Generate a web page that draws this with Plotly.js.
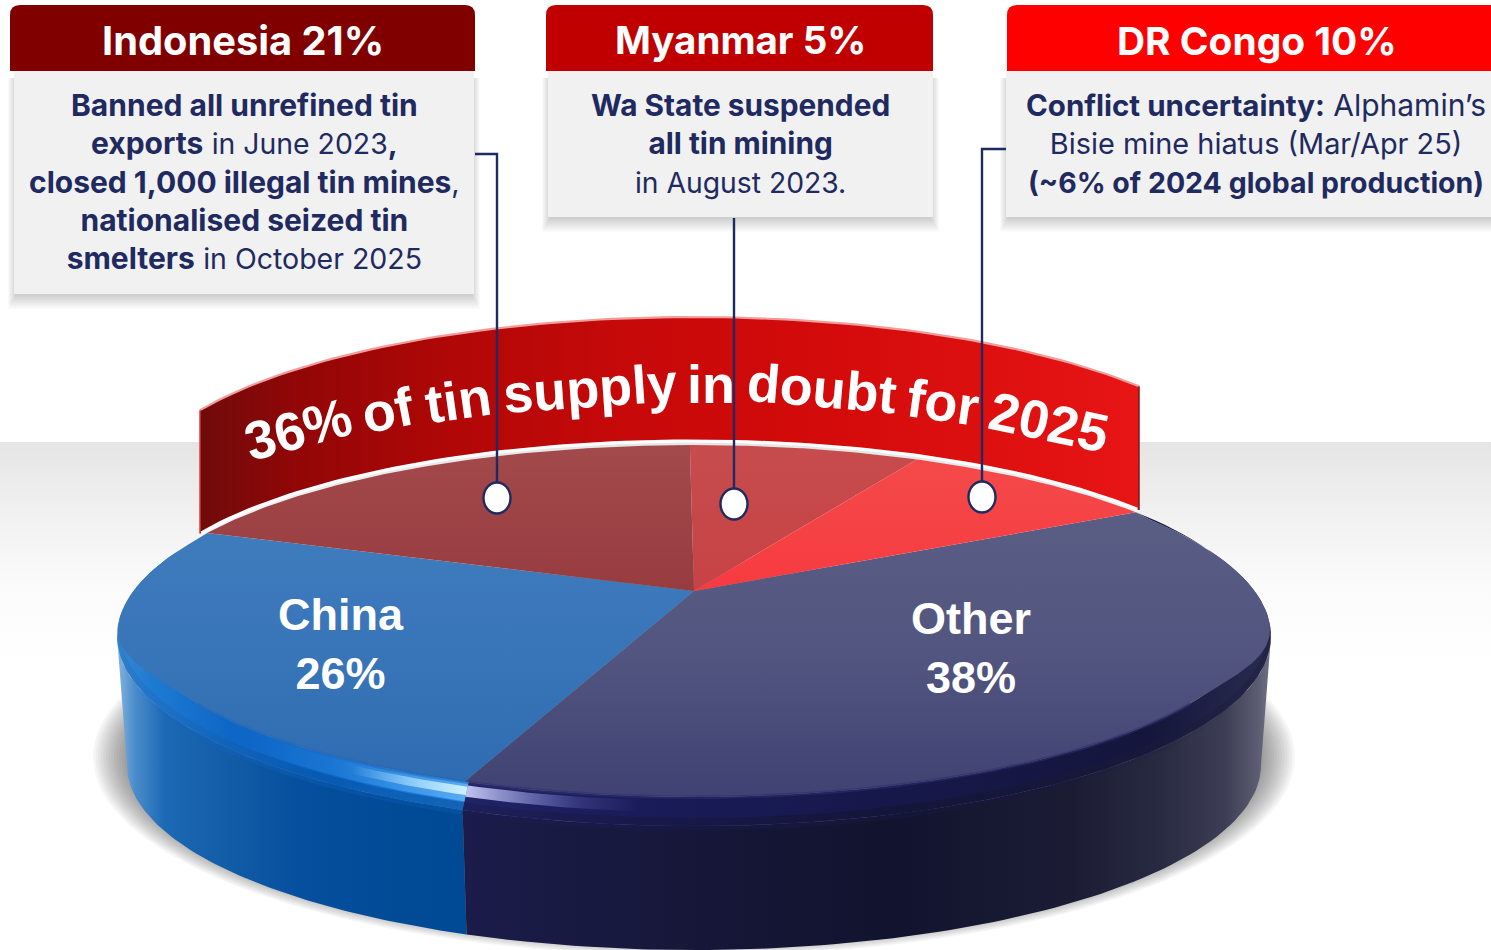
<!DOCTYPE html>
<html><head><meta charset="utf-8">
<script src="https://cdn.plot.ly/plotly-3.0.1.min.js"></script>
<style>html,body{margin:0;padding:0;background:#fff;overflow:hidden}#chart{width:1491px;height:950px}</style>
</head><body><div id="chart"></div>
<script>
// ---- data ----
const categories = ['Myanmar', 'DR Congo', 'Other', 'China', 'Indonesia'];
const labelledShares = [5, 10, 38, 26, 21];            // percentages printed on the chart
const drawnSliceSizes = [7.8, 9, 39, 25.2, 19];        // angular size of each wedge as drawn in the reference
const startAngleDeg = -0.5;
const bannerWords = ['36%', 'of', 'tin', 'supply', 'in', 'doubt', 'for', '2025'];
const bannerWordX = [298, 388, 458, 590, 711, 822, 943, 1049];
const bannerWordY = [429, 410, 400, 388, 384, 388, 402, 422];
const bannerWordAngle = [-15, -11, -8, -4, 0, 5, 8, 12];
const B = (t, s) => `<span style="font-size:${s}px;font-weight:700">${t}</span>`;
const R = (t, s) => `<span style="font-size:${s}px">${t}</span>`;
const indonesiaNote = [B('Banned all unrefined tin', 30), B('exports', 30) + ' ' + R('in June 2023', 28.4) + B(',', 30),
  B('closed 1,000 illegal tin mines', 30) + R(',', 29), B('nationalised seized tin', 30),
  B('smelters', 30) + ' ' + R('in October 2025', 28.5)].join('<br>');
const myanmarNote = [B('Wa State suspended', 29.8), B('all tin mining', 29.8), R('in August 2023.', 28.3)].join('<br>');
const congoNote = [B('Conflict uncertainty:', 29.5) + ' ' + R('Alphamin’s', 30), R('Bisie mine hiatus (Mar/Apr 25)', 28.9),
  B('(~6% of 2024 global production)', 28.5)].join('<br>');

// ---- geometry helpers ----
const F = 'Inter, "Noto Sans", sans-serif';
const ARIAL = '"Liberation Sans", Arial, sans-serif';
const NAVY = '#1f2a60';
const cx = 694, hubY = 591;
const SURF = {cy: 621, rx: 562, ry: 176};
const RIM  = {cy: 636, rx: 577, ry: 190};
const BASE = {cy: 765, rx: 567, ry: 185};
const t0 = (hubY - SURF.cy) / SURF.ry;
const rad = d => d * Math.PI / 180;
const onE = (E, phi) => [cx + E.rx * Math.cos(phi), E.cy + E.ry * Math.sin(phi)];
const mix = (A, B, f) => ({cy: A.cy + (B.cy - A.cy) * f, rx: A.rx + (B.rx - A.rx) * f, ry: A.ry + (B.ry - A.ry) * f});
// pie angle (clockwise from 12 o'clock) -> angle on the foreshortened ellipse
function pieToPhi(deg) {
  const u = Math.sin(rad(deg)), v = -Math.cos(rad(deg));
  const d = 1 + t0 * v;
  return Math.atan2((v + t0) / d, u * Math.sqrt(1 - t0 * t0) / d);
}
function arc(E, p0, p1, n = 90) {
  const o = [];
  for (let i = 0; i <= n; i++) o.push(onE(E, p0 + (p1 - p0) * i / n));
  return o;
}
// edge of the flat top: runs out to the silhouette on the far half, pulls in to the bevel on the near half
function topEdge(p0, p1, n = 160) {
  const o = [];
  for (let i = 0; i <= n; i++) {
    const p = p0 + (p1 - p0) * i / n, s = Math.sin(p);
    const k = Math.min(1, Math.max(0, (0.45 - s) / 0.55));
    o.push(onE(mix(SURF, RIM, k * k * (3 - 2 * k)), p));
  }
  return o;
}
function poly(pts, grad, extra) {
  return Object.assign({
    type: 'scatter', mode: 'lines', x: pts.map(p => p[0]), y: pts.map(p => p[1]),
    fill: 'toself', line: {width: 0}, hoverinfo: 'skip', showlegend: false,
    fillcolor: grad.color || 'rgba(0,0,0,0)'
  }, grad.scale ? {fillgradient: {type: grad.type, colorscale: grad.scale, start: grad.start, stop: grad.stop}} : {}, extra || {});
}
const vGrad = (start, stop, cols) => ({type: 'vertical', start, stop, scale: cols.map((c, i) => [i / (cols.length - 1), c])});
const stops = (start, stop, pairs) => ({type: 'horizontal', start, stop, scale: pairs.map(p => [(p[0] - start) / (stop - start), p[1]])});

// slice boundaries
const total = drawnSliceSizes.reduce((a, b) => a + b, 0);
let acc = startAngleDeg;
const edges = [acc];
drawnSliceSizes.forEach(v => { acc += v / total * 360; edges.push(acc); });
function unwrap(p0, p1) { let e = p1; while (e < p0) e += 2 * Math.PI; return e; }

const traces = [];
// background floor
traces.push(poly([[0, 442], [1491, 442], [1491, 660], [0, 660]], vGrad(442, 660, ['#e5e5e5', '#f1f1f1', '#fbfbfb', '#ffffff'])));
// soft shadow under the disc
for (let i = 0; i < 16; i++) {
  const E = {cy: 757, rx: 601 - i * 2.6, ry: 199 - i * 1.3};
  traces.push(poly(arc(E, 0, 2 * Math.PI, 160), {color: 'rgba(50,50,50,0.042)'}));
}

const phiChina0 = pieToPhi(edges[3]), phiIndo0 = pieToPhi(edges[4]), otherStart = pieToPhi(edges[2]);
const split = phiChina0 - 0.008;
// --- side walls ---
const sideBlue = arc(RIM, split, Math.PI).concat(arc(BASE, Math.PI, split));
traces.push(poly(sideBlue, stops(115, 470, [[115, '#8fb9e2'], [135, '#4a8ccb'], [165, '#1c69b5'], [215, '#155ea9'], [300, '#064f9e'], [400, '#004a96'], [470, '#004a94']])));
const sideNavy = arc(RIM, 0, split).concat(arc(BASE, split, 0));
traces.push(poly(sideNavy, stops(455, 1275, [[455, '#1b1c4a'], [700, '#161738'], [900, '#12132e'], [1070, '#1b1c34'], [1160, '#282a42'], [1225, '#3d3e55'], [1258, '#5c5d72'], [1275, '#77788a']])));

// --- bevelled rim ---
const chinaEnd = unwrap(phiChina0, phiIndo0);
const blueBevel = stops(115, 480, [[115, '#3a8ad2'], [150, '#1e7bd2'], [230, '#0e67c6'], [330, '#0b66c8'], [400, '#1a78d8'], [480, '#2c88e0']]);
const navyBevel = stops(455, 1275, [[455, '#22246a'], [600, '#1a1c5c'], [900, '#16184a'], [1150, '#15163c'], [1275, '#2a2c50']]);
traces.push(poly(arc(RIM, split, chinaEnd).concat(arc(SURF, chinaEnd, split)), blueBevel));
traces.push(poly(arc(RIM, otherStart, split).concat(arc(SURF, split, otherStart)), navyBevel));
function band(p0, p1, f0, f1, g) {
  const A = mix(SURF, RIM, f0), Z = mix(SURF, RIM, f1);
  return poly(arc(A, p0, p1).concat(arc(Z, p1, p0)), g);
}
// soft lower edge of the bevel, blending into the wall
traces.push(band(split, rad(180), 0.72, 1.0, stops(115, 470, [[115, 'rgba(40,110,190,.35)'], [300, 'rgba(5,80,160,.5)'], [470, 'rgba(0,74,150,.55)']])));
traces.push(band(rad(0), split, 0.72, 1.0, stops(455, 1275, [[455, 'rgba(27,28,74,.5)'], [900, 'rgba(18,19,46,.6)'], [1275, 'rgba(30,30,60,.4)']])));
traces.push(band(split, rad(165), 1.0, 1.16, stops(130, 466, [[130, 'rgba(14,100,196,0)'], [220, 'rgba(14,100,196,.35)'], [466, 'rgba(10,90,180,.4)']])));
traces.push(band(rad(15), split, 1.0, 1.16, stops(464, 1240, [[464, 'rgba(26,28,86,.45)'], [1000, 'rgba(22,24,70,.35)'], [1240, 'rgba(22,24,70,0)']])));
// highlights on the rim
const bluePhi = [split, rad(170)];
traces.push(band(bluePhi[0], bluePhi[1], 0.02, 0.68, stops(250, 466, [[250, 'rgba(70,160,240,0)'], [360, 'rgba(70,160,240,.35)'], [430, 'rgba(110,190,255,.5)'], [466, 'rgba(120,200,255,.6)']])));
traces.push(band(bluePhi[0], bluePhi[1], 0.16, 0.46, stops(350, 466, [[350, 'rgba(170,225,255,0)'], [420, 'rgba(180,230,255,.75)'], [466, 'rgba(205,240,255,1)']])));
traces.push(band(rad(60), split, 0.12, 0.52, stops(464, 640, [[464, 'rgba(205,208,250,.95)'], [520, 'rgba(170,175,235,.6)'], [580, 'rgba(120,125,205,.25)'], [640, 'rgba(110,115,200,0)']])));

// --- banner ---
const BANNER_BOT = {cy: 618, rx: 562, ry: 177};
const BANNER_TOP = {cy: 495, rx: 562, ry: 178};
const pL = Math.PI + Math.acos((cx - 200) / 562), pR = 2 * Math.PI - Math.acos((1139 - cx) / 562);
const bannerPoly = arc(BANNER_TOP, pL, pR).concat(arc(BANNER_BOT, pR, pL));
traces.push(poly(bannerPoly, stops(199, 1140, [[199, '#6f0b0b'], [300, '#930606'], [450, '#b00707'], [620, '#c60909'], [800, '#d20a0a'], [1000, '#de1010'], [1140, '#e81515']])));

// --- top surface slices: the two solid ones run out to the silhouette, the red ones stop at the lip ---
const sliceFill = {
  Myanmar:    vGrad(445, 595, ['#c64c4d', '#c84245']),
  'DR Congo': vGrad(455, 595, ['#f44a4a', '#f73a40']),
  Other:      vGrad(510, 800, ['#5a5e85', '#52557f', '#3f4272']),
  China:      vGrad(530, 790, ['#3f7cbd', '#3874b8', '#2e6bb0']),
  Indonesia:  vGrad(445, 595, ['#a34a4c', '#973b3f'])
};
const hub = [cx, hubY];
const solidSlices = ['Other', 'China'];
categories.forEach((name, i) => {
  const p0 = pieToPhi(edges[i]), p1 = unwrap(p0, pieToPhi(edges[i + 1]));
  if (solidSlices.includes(name)) {
    traces.push(poly([hub, onE(SURF, p0)].concat(topEdge(p0, p1)).concat([onE(SURF, p1), hub]), sliceFill[name]));
  }
});
categories.forEach((name, i) => {
  const p0 = pieToPhi(edges[i]), p1 = unwrap(p0, pieToPhi(edges[i + 1]));
  if (!solidSlices.includes(name)) {
    traces.push(poly([hub].concat(arc(SURF, p0, p1)).concat([hub]), sliceFill[name]));
  }
});
// feather where the flat top meets the bevel
traces.push(band(rad(28), split, -0.05, 0.07, {color: 'rgba(45,48,110,.55)'}));
traces.push(band(split, rad(152), -0.05, 0.07, {color: 'rgba(30,105,190,.55)'}));
// white lip and pink highlight of the banner
const lineTrace = (pts, color, width) => ({type: 'scatter', mode: 'lines', x: pts.map(p => p[0]), y: pts.map(p => p[1]),
  line: {color, width}, hoverinfo: 'skip', showlegend: false});
traces.push(lineTrace(arc(BANNER_BOT, pL + 0.005, pR - 0.005), '#ffffff', 3.2));
traces.push(lineTrace(arc(BANNER_TOP, pL, pR), '#f29c9c', 2.2));
traces.push(lineTrace([onE(BANNER_TOP, pL), onE(BANNER_BOT, pL)], '#d93a3a', 1.5));
traces.push(lineTrace([onE(BANNER_TOP, pR), onE(BANNER_BOT, pR)], '#7a1b1b', 1.5));

// --- shapes: callout cards and connectors ---
const shapes = [];
function card(x0, x1, y1, hx0, hx1, color) {
  for (let i = 0; i < 12; i++) {
    shapes.push({type: 'rect', xref: 'x', yref: 'y', x0: x0 - 6 + i * 0.7, x1: x1 + 6 - i * 0.7, y0: 78, y1: y1 + 15 - i * 1.2,
      fillcolor: 'rgba(60,60,60,0.018)', line: {width: 0}, layer: 'above'});
  }
  shapes.push({type: 'rect', xref: 'x', yref: 'y', x0, x1, y0: 71, y1, fillcolor: '#f1f1f1', line: {width: 0}, layer: 'above'});
  const r = 10;
  shapes.push({type: 'path', xref: 'x', yref: 'y', layer: 'above', fillcolor: color, line: {width: 0},
    path: `M${hx0},71 L${hx0},${5 + r} Q${hx0},5 ${hx0 + r},5 L${hx1 - r},5 Q${hx1},5 ${hx1},${5 + r} L${hx1},71 Z`});
}
card(14, 474, 294, 10, 475, '#800000');
card(548, 933, 217, 546, 933, '#c00000');
card(1006, 1530, 217, 1007, 1530, '#ff0000');
function connector(path, dotX, dotY) {
  shapes.push({type: 'path', xref: 'x', yref: 'y', layer: 'above', path, line: {color: NAVY, width: 2.4}});
  shapes.push({type: 'circle', xref: 'x', yref: 'y', layer: 'above', x0: dotX - 13.5, x1: dotX + 13.5, y0: dotY - 15.5, y1: dotY + 15.5,
    fillcolor: '#ffffff', line: {color: NAVY, width: 2.4}});
}
connector('M475,154 L497,154 L497,498', 497, 498);
connector('M734,218 L734,504', 734, 504);
connector('M1006,149 L982,149 L982,497', 982, 497);

// --- text ---
const share = n => labelledShares[categories.indexOf(n)];
const ann = (text, x, y, font) => ({
  text, x, y, xref: 'x', yref: 'y', showarrow: false, xanchor: 'center', yanchor: 'middle', align: 'center', font
});
const headFont = s => ({family: F, size: s, color: '#ffffff', weight: 700});
const noteFont = {family: F, size: 29.5, color: NAVY};
const pieFont = {family: ARIAL, size: 45, color: '#ffffff', weight: 700};
const annotations = [
  ann(`Indonesia ${share('Indonesia')}%`, 242.5, 40, headFont(39.8)),
  ann(`Myanmar ${share('Myanmar')}%`, 740, 40, headFont(38.5)),
  ann(`DR Congo ${share('DR Congo')}%`, 1256.5, 40, headFont(38.9)),
  ann(indonesiaNote, 244, 181, noteFont),
  ann(myanmarNote, 740, 143, noteFont),
  ann(congoNote, 1256, 143, noteFont),
  ann(`China<br>${share('China')}%`, 341, 644, pieFont),
  ann(`Other<br>${share('Other')}%`, 971, 648, pieFont)
];
bannerWords.forEach((w, i) => {
  annotations.push(Object.assign(ann(w, bannerWordX[i], bannerWordY[i], {family: ARIAL, size: 54, color: '#ffffff', weight: 700}),
    {textangle: bannerWordAngle[i]}));
});

Plotly.newPlot('chart', traces, {
  width: 1491, height: 950, margin: {l: 0, r: 0, t: 0, b: 0},
  paper_bgcolor: '#ffffff', plot_bgcolor: '#ffffff', showlegend: false, hovermode: false,
  xaxis: {range: [0, 1491], visible: false, fixedrange: true},
  yaxis: {range: [950, 0], visible: false, fixedrange: true},
  shapes, annotations
}, {displayModeBar: false, staticPlot: true});
</script></body></html>
